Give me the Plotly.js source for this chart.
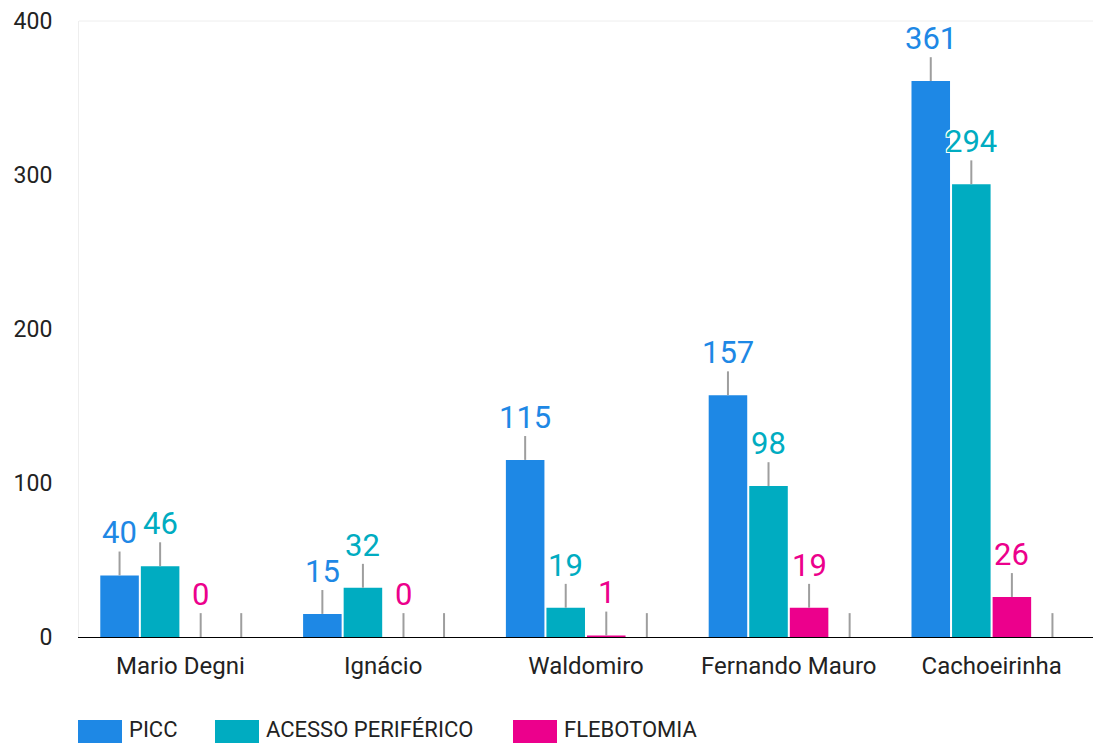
<!DOCTYPE html>
<html>
<head>
<meta charset="utf-8">
<script src="https://cdn.plot.ly/plotly-3.0.1.min.js"></script>
<style>
  html, body { margin: 0; padding: 0; background: #fff; }
  #chart { width: 1093px; height: 743px; }
</style>
</head>
<body>
<div id="chart"></div>
<script>
// categories and series
var categories = ['Mario Degni', 'Ignácio', 'Waldomiro', 'Fernando Mauro', 'Cachoeirinha'];
var picc = [40, 15, 115, 157, 361];
var acesso = [46, 32, 19, 98, 294];
var flebotomia = [0, 0, 1, 19, 26];
var spare = [0, 0, 0, 0, 0];   // empty fourth slot in each group

var seriesNames = ['PICC', 'ACESSO PERIFÉRICO', 'FLEBOTOMIA'];
var seriesValues = [picc, acesso, flebotomia];
var seriesColors = ['#1e88e5', '#00acc1', '#ec008c'];

var yTicks = [0, 100, 200, 300, 400];

// page geometry (pixels)
var W = 1093, H = 743;
var M = {l: 79, r: 0, t: 21, b: 106};
var pw = W - M.l - M.r, ph = H - M.t - M.b;
function px(X) { return (X - M.l) / pw; }
function py(Y) { return (M.t + ph - Y) / ph; }

var leader = {
    type: 'constant', value: 15.5, symmetric: false, valueminus: 0,
    color: '#9e9e9e', thickness: 2, width: 0
};

var data = [];
seriesNames.forEach(function (name, i) {
    data.push({
        type: 'bar',
        name: name,
        x: categories,
        y: seriesValues[i],
        marker: {color: seriesColors[i]},
        error_y: leader,
        hoverinfo: 'x+y+name',
        showlegend: false
    });
});
data.push({
    type: 'bar', name: '', x: categories, y: spare,
    marker: {color: 'rgba(0,0,0,0)'}, error_y: leader,
    hoverinfo: 'skip', showlegend: false
});

// value labels above the leader lines
var slotOffset = [-0.3, -0.1, 0.1, 0.3];
var annotations = [];
seriesValues.forEach(function (vals, i) {
    vals.forEach(function (v, j) {
        annotations.push({
            xref: 'x', yref: 'y', x: j + slotOffset[i], y: v,
            text: String(v), showarrow: false,
            xanchor: 'center', yanchor: 'bottom', yshift: 22,
            font: {family: 'Roboto', size: 31, color: seriesColors[i],
                   shadow: '1px 1px 0 #fff, -1px -1px 0 #fff, 1px -1px 0 #fff, -1px 1px 0 #fff'}
        });
    });
});

// legend drawn by hand (large swatches)
var legendX = [78, 215, 513];
var shapes = [
    {type: 'line', xref: 'paper', yref: 'paper', x0: 0, x1: 1, y0: 1, y1: 1,
     line: {color: '#eeeeee', width: 1}}
];
seriesNames.forEach(function (name, i) {
    shapes.push({
        type: 'rect', xref: 'paper', yref: 'paper',
        x0: px(legendX[i]), x1: px(legendX[i] + 44), y0: py(745), y1: py(720),
        fillcolor: seriesColors[i], line: {width: 0}
    });
    annotations.push({
        xref: 'paper', yref: 'paper', x: px(legendX[i] + 50), y: py(729),
        xanchor: 'left', yanchor: 'middle', showarrow: false, text: name,
        borderpad: 0,
        font: {family: 'Roboto', size: 22, color: '#222'}
    });
});

var layout = {
    width: W, height: H,
    margin: M,
    paper_bgcolor: '#fff', plot_bgcolor: '#fff',
    font: {family: 'Roboto', color: '#222'},
    barmode: 'group', bargap: 0.2, bargroupgap: 0.05,
    showlegend: false,
    xaxis: {
        type: 'category',
        showgrid: false, showline: true, linecolor: '#000', linewidth: 1,
        ticks: '', ticklabelstandoff: 7,
        tickfont: {family: 'Roboto', size: 24, color: '#222'}
    },
    yaxis: {
        range: [0, 400], tickvals: yTicks, ticktext: yTicks.map(String),
        showgrid: false, zeroline: false,
        showline: true, linecolor: '#eeeeee', linewidth: 1,
        ticks: '', ticklabelstandoff: 21,
        tickfont: {family: 'Roboto', size: 23, color: '#222'}
    },
    shapes: shapes,
    annotations: annotations
};

Plotly.newPlot('chart', data, layout, {displayModeBar: false, staticPlot: true});
</script>
</body>
</html>
